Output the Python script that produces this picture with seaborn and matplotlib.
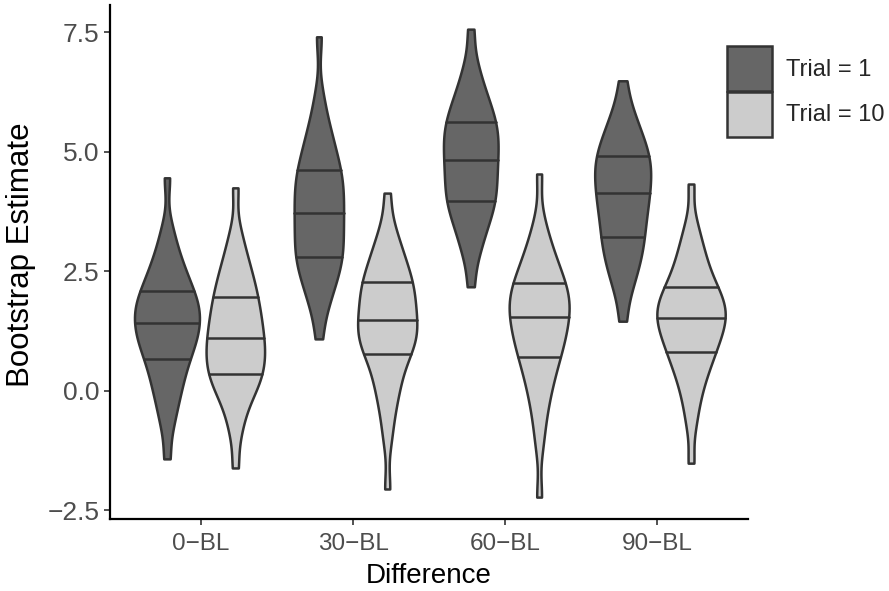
import matplotlib
matplotlib.use("Agg")
import matplotlib.pyplot as plt
import seaborn as sns
import pandas as pd
from matplotlib.patches import Patch

differences = ["0\u2212BL", "30\u2212BL", "60\u2212BL", "90\u2212BL"]
trials = ["Trial = 1", "Trial = 10"]

# bootstrap estimates, read off the picture as 41 evenly spaced quantiles (0%, 2.5%, ... 100%)
est_0bl_t1 = [-1.42, -0.80, -0.50, -0.28, -0.10, 0.06, 0.20, 0.33, 0.45, 0.56,
              0.67, 0.76, 0.85, 0.93, 1.01, 1.08, 1.15, 1.22, 1.29, 1.355,
              1.42, 1.49, 1.55, 1.62, 1.68, 1.75, 1.81, 1.88, 1.95, 2.02,
              2.10, 2.19, 2.28, 2.38, 2.49, 2.61, 2.75, 2.92, 3.13, 3.45, 4.46]
est_0bl_t10 = [-1.61, -0.95, -0.62, -0.40, -0.22, -0.07, 0.02, 0.12, 0.21, 0.29,
               0.36, 0.44, 0.52, 0.59, 0.67, 0.74, 0.81, 0.89, 0.96, 1.03,
               1.11, 1.19, 1.27, 1.35, 1.43, 1.52, 1.60, 1.69, 1.78, 1.87,
               1.97, 2.07, 2.17, 2.28, 2.40, 2.53, 2.68, 2.85, 3.06, 3.38, 4.25]
est_30bl_t1 = [1.09, 1.60, 1.85, 2.03, 2.18, 2.31, 2.43, 2.54, 2.64, 2.73,
               2.81, 2.90, 2.99, 3.08, 3.17, 3.27, 3.36, 3.45, 3.54, 3.63,
               3.72, 3.81, 3.90, 3.99, 4.08, 4.17, 4.26, 4.35, 4.44, 4.53,
               4.62, 4.72, 4.83, 4.95, 5.08, 5.22, 5.38, 5.56, 5.80, 6.20, 7.41]
est_30bl_t10 = [-2.05, -1.05, -0.62, -0.33, -0.10, 0.08, 0.24, 0.39, 0.53, 0.65,
                0.77, 0.85, 0.93, 1.00, 1.07, 1.14, 1.21, 1.28, 1.35, 1.42,
                1.49, 1.57, 1.65, 1.73, 1.81, 1.89, 1.97, 2.05, 2.13, 2.20,
                2.28, 2.37, 2.46, 2.56, 2.67, 2.79, 2.92, 3.07, 3.25, 3.52, 4.14]
est_60bl_t1 = [2.18, 2.72, 2.98, 3.17, 3.33, 3.47, 3.59, 3.70, 3.80, 3.89,
               3.97, 4.06, 4.15, 4.23, 4.32, 4.40, 4.49, 4.57, 4.66, 4.74,
               4.83, 4.91, 4.99, 5.07, 5.15, 5.23, 5.31, 5.39, 5.47, 5.55,
               5.63, 5.72, 5.81, 5.91, 6.02, 6.14, 6.28, 6.44, 6.64, 6.95, 7.57]
est_60bl_t10 = [-2.22, -1.15, -0.70, -0.40, -0.16, 0.04, 0.20, 0.34, 0.48, 0.60,
                0.71, 0.81, 0.90, 0.99, 1.08, 1.16, 1.24, 1.32, 1.40, 1.48,
                1.55, 1.62, 1.69, 1.76, 1.83, 1.90, 1.97, 2.04, 2.11, 2.18,
                2.26, 2.35, 2.44, 2.54, 2.65, 2.77, 2.91, 3.07, 3.27, 3.60, 4.54]
est_90bl_t1 = [1.46, 1.95, 2.20, 2.39, 2.54, 2.67, 2.79, 2.91, 3.02, 3.12,
               3.22, 3.32, 3.42, 3.52, 3.62, 3.71, 3.80, 3.89, 3.97, 4.06,
               4.14, 4.22, 4.30, 4.38, 4.46, 4.54, 4.61, 4.69, 4.77, 4.84,
               4.92, 5.00, 5.09, 5.18, 5.28, 5.39, 5.51, 5.65, 5.82, 6.05, 6.49]
est_90bl_t10 = [-1.51, -0.75, -0.38, -0.12, 0.08, 0.25, 0.39, 0.51, 0.62, 0.72,
                0.82, 0.90, 0.98, 1.06, 1.14, 1.21, 1.28, 1.35, 1.41, 1.47,
                1.53, 1.59, 1.65, 1.71, 1.77, 1.83, 1.89, 1.96, 2.03, 2.10,
                2.18, 2.27, 2.37, 2.48, 2.60, 2.73, 2.88, 3.05, 3.25, 3.55, 4.33]

estimates = {
    (differences[0], trials[0]): est_0bl_t1,
    (differences[0], trials[1]): est_0bl_t10,
    (differences[1], trials[0]): est_30bl_t1,
    (differences[1], trials[1]): est_30bl_t10,
    (differences[2], trials[0]): est_60bl_t1,
    (differences[2], trials[1]): est_60bl_t10,
    (differences[3], trials[0]): est_90bl_t1,
    (differences[3], trials[1]): est_90bl_t10,
}

rows = []
for (diff, trial), vals in estimates.items():
    for v in vals:
        rows.append({"Difference": diff, "Trial": trial, "Estimate": v})
df = pd.DataFrame(rows)

sns.set_style("ticks")
plt.rcParams["font.family"] = ["Liberation Sans", "DejaVu Sans"]

fig = plt.figure(figsize=(8.89, 5.91), dpi=100)
ax = fig.add_axes([110 / 889, 72 / 591, 638 / 889, 514 / 591])

sns.violinplot(data=df, x="Difference", y="Estimate", hue="Trial",
               order=differences, hue_order=trials,
               palette=["#666666", "#cccccc"], saturation=1,
               inner="quart", cut=0, density_norm="area", common_norm=True,
               width=0.9, gap=0, bw_adjust=0.6,
               linewidth=1.8, linecolor="#333333", ax=ax)

# solid quartile lines like the original
for line in ax.lines:
    line.set_linestyle("-")
    line.set_color("#333333")
    line.set_linewidth(1.8)

ax.set_xlim(-0.6, 3.6)
ax.set_ylim(-2.678, 8.075)
ax.set_yticks([-2.5, 0.0, 2.5, 5.0, 7.5])

ax.set_xlabel("Difference", fontsize=20, color="black", labelpad=6)
ax.set_ylabel("Bootstrap Estimate", fontsize=22.5, color="black", labelpad=8)
ax.yaxis.label.set_y(0.515)
ax.tick_params(axis="x", labelsize=17.5, pad=6)
ax.tick_params(axis="y", labelsize=19)
ax.tick_params(axis="both", labelcolor="#4d4d4d", color="#333333", length=4, width=1.2)

sns.despine(ax=ax)
for side in ["left", "bottom"]:
    ax.spines[side].set_linewidth(1.6)
    ax.spines[side].set_color("black")

ax.get_legend().remove()
handles = [Patch(facecolor=c, edgecolor="#333333", linewidth=1.8) for c in ["#666666", "#cccccc"]]
fig.legend(handles, trials, loc="upper left", bbox_to_anchor=(727 / 889, 1 - 46 / 591),
           frameon=False, fontsize=17, handlelength=1.9, handleheight=2.55,
           labelspacing=0.04, handletextpad=0.6, borderpad=0, borderaxespad=0)

fig.savefig("out.png", dpi=100)
